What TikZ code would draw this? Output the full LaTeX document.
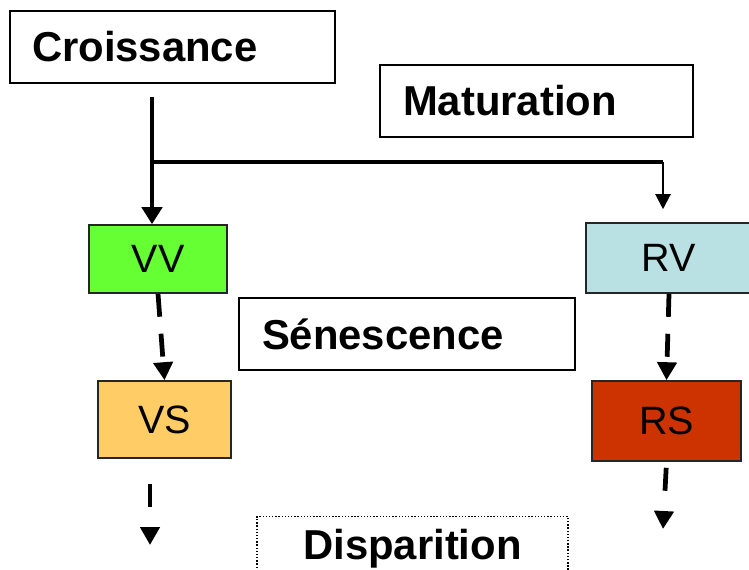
\documentclass[tikz,border=0pt]{standalone}
\usepackage{fontspec}
\setmainfont{Liberation Sans}
\usetikzlibrary{arrows.meta}
\definecolor{vvgreen}{HTML}{66FF33}
\definecolor{rvblue}{HTML}{B9E0E3}
\definecolor{vsorange}{HTML}{FFCC66}
\definecolor{rsred}{HTML}{CC3300}
\begin{document}
\begin{tikzpicture}[x=0.02cm, y=-0.02cm,
  phase/.style = {draw, line width=0.8pt, inner ysep=0pt, align=left, minimum height=1.44cm, font=\fontsize{23.8}{28}\selectfont\bfseries},
  stage/.style = {draw=black!85, line width=0.9pt, inner sep=0pt, font=\fontsize{22.5}{27}\selectfont},
  bigline/.style = {line width=2.6pt},
  bigarrow/.style = {line width=2.6pt, -{Triangle[width=0.4cm,length=0.34cm]}},
  thinarrow/.style = {line width=1.2pt, -{Triangle[width=0.3cm,length=0.3cm]}},
  dasharrow/.style = {line width=2.7pt, dash pattern=on 0.46cm off 0.34cm, -{Triangle[width=0.38cm,length=0.36cm]}},
  enddash/.style = {dash pattern=on 0.46cm off 0.5cm}]
  \useasboundingbox (0,0) rectangle (749,569);
  \node[phase, text width=5.62cm, inner xsep=0.44cm] (crois) at (172.5,47) {Croissance};
  \node[phase, text width=5.34cm, inner xsep=0.46cm] (matur) at (536.5,101) {Maturation};
  \node[phase, text width=5.8cm, inner xsep=0.46cm] (senes) at (407,334) {Sénescence};
  \node[phase, align=center, densely dotted, minimum width=6.22cm, minimum height=1.3cm] (dispa) at (412.5,549) {Disparition};
  \node[stage, fill=vvgreen, minimum width=2.76cm, minimum height=1.36cm] (vv) at (158,259) {VV};
  \node[stage, fill=rvblue, minimum width=3.32cm, minimum height=1.4cm] (rv) at (669,258) {RV};
  \node[stage, fill=vsorange, minimum width=2.66cm, minimum height=1.54cm] (vs) at (164.5,419.5) {VS};
  \node[stage, fill=rsred, minimum width=2.98cm, minimum height=1.6cm] (rs) at (666.5,421) {RS};
  \coordinate (fork) at (152,162);
  \coordinate (turn) at (663,162);
  \coordinate (vsend) at (150,545);
  \coordinate (rsend) at (663,529);
  \draw[bigarrow, shorten <=0.26cm] (crois.south -| fork) -- (fork |- vv.north);
  \draw[bigline] (fork) -- (turn);
  \draw[thinarrow, shorten >=0.26cm] (turn) -- (turn |- rv.north);
  \draw[dasharrow] (vv.south) -- (vs.north);
  \draw[dasharrow] (rv.south) -- (rs.north);
  \draw[dasharrow, enddash, shorten <=0.5cm] (vs.south -| vsend) -- (vsend);
  \draw[dasharrow, enddash, shorten <=0.12cm] (rs.south) -- (rsend);
\end{tikzpicture}
\end{document}
